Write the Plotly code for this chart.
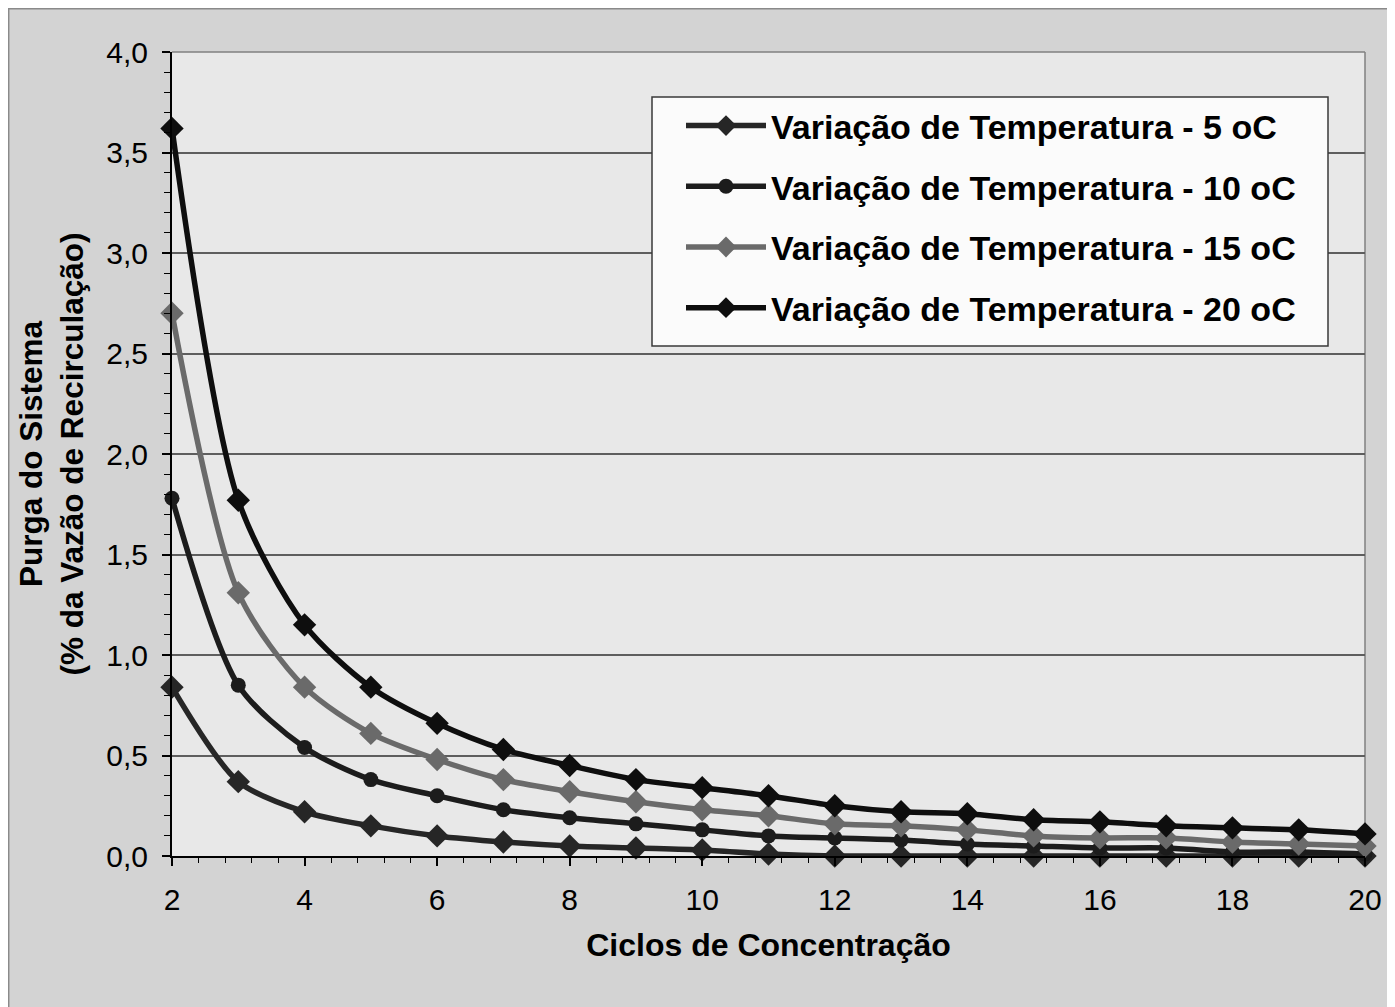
import plotly.graph_objects as go

cycles = list(range(2, 21))
t5 = [0.84, 0.37, 0.22, 0.15, 0.10, 0.07, 0.05, 0.04, 0.03, 0.01, 0.00, 0.00, 0.00, 0.00, 0.00, 0.00, 0.00, 0.00, 0.00]
t10 = [1.78, 0.85, 0.54, 0.38, 0.30, 0.23, 0.19, 0.16, 0.13, 0.10, 0.09, 0.08, 0.06, 0.05, 0.04, 0.04, 0.02, 0.02, 0.01]
t15 = [2.70, 1.31, 0.84, 0.61, 0.48, 0.38, 0.32, 0.27, 0.23, 0.20, 0.16, 0.15, 0.13, 0.10, 0.09, 0.09, 0.07, 0.06, 0.05]
t20 = [3.62, 1.77, 1.15, 0.84, 0.66, 0.53, 0.45, 0.38, 0.34, 0.30, 0.25, 0.22, 0.21, 0.18, 0.17, 0.15, 0.14, 0.13, 0.11]

names = ["Variação de Temperatura - 5 oC", "Variação de Temperatura - 10 oC",
         "Variação de Temperatura - 15 oC", "Variação de Temperatura - 20 oC"]
series = [t5, t10, t15, t20]
colors = ["#262626", "#1c1c1c", "#6a6a6a", "#0e0e0e"]
symbols = ["diamond", "circle", "diamond", "diamond"]
msizes = [18, 15, 18, 18]

# page body has an 8px margin; figure fills the rest of the 1395x1007 window
OFF = 8
W, H = 1395 - OFF, 1007 - OFF
PL, PT, PR, PB = 172, 52, 1365, 856   # plot area in screen pixels
L, T, R, B = PL - OFF, PT - OFF, 1395 - PR, 1007 - PB
pw, ph = PR - PL, PB - PT

def px(sx):
    return (sx - PL) / pw

def py(sy):
    return (PB - sy) / ph

fig = go.Figure()
for i, (nm, ys) in enumerate(zip(names, series)):
    fig.add_trace(go.Scatter(
        x=cycles, y=ys, name=nm, mode="lines+markers",
        line=dict(color=colors[i], width=5.5, shape="spline", smoothing=0.8),
        marker=dict(symbol=symbols[i], size=msizes[i], color=colors[i]),
        cliponaxis=False, legendgroup=f"g{i}",
    ))

font = "Liberation Sans, Arial, sans-serif"
shapes = [
    # outer frame border
    dict(type="rect", xref="paper", yref="paper", x0=px(8.7), x1=px(1400), y0=py(1012), y1=py(8.7),
         fillcolor="rgba(0,0,0,0)", line=dict(color="#8a8a8a", width=1.5), layer="above"),
    # legend box
    dict(type="rect", xref="paper", yref="paper", x0=px(652), x1=px(1328), y0=py(346), y1=py(97),
         fillcolor="#fbfbfb", line=dict(color="#3a3a3a", width=1.5), layer="above"),
    # plot border top/right
    dict(type="line", xref="paper", yref="paper", x0=0, x1=1, y0=1, y1=1,
         line=dict(color="#808080", width=1.5), layer="below"),
    dict(type="line", xref="paper", yref="paper", x0=1, x1=1, y0=0, y1=1,
         line=dict(color="#808080", width=1.5), layer="below"),
]

fig.update_layout(
    width=W, height=H,
    margin=dict(l=L, r=R, t=T, b=B),
    paper_bgcolor="#d3d3d3",
    plot_bgcolor="#e8e8e8",
    font=dict(family=font, color="#000000", size=30),
    shapes=shapes,
    showlegend=True,
    separators=",.",
    legend=dict(
        x=px(681), y=py(97), xanchor="left", yanchor="top",
        bgcolor="rgba(0,0,0,0)", borderwidth=0,
        font=dict(family=font, size=34, color="#000000", weight="bold"),
        itemwidth=80, tracegroupgap=13.5, traceorder="grouped",
    ),
    xaxis=dict(
        range=[2, 20], dtick=2, tick0=2,
        showgrid=False, zeroline=False,
        showline=True, linecolor="#000000", linewidth=2,
        ticks="outside", ticklen=8, tickwidth=1.5, tickcolor="#000000",
        minor=dict(dtick=0.4, tick0=2, ticks="outside", ticklen=5, tickcolor="#000000", tickwidth=1.2, showgrid=False),
        tickfont=dict(size=30), ticklabelstandoff=8,
        title=dict(text="Ciclos de Concentração", font=dict(size=32, weight="bold"), standoff=19),
    ),
    yaxis=dict(
        range=[0, 4], dtick=0.5, tick0=0,
        showgrid=True, gridcolor="#5e5e5e", gridwidth=1.5,
        zeroline=False,
        showline=True, linecolor="#000000", linewidth=2,
        ticks="outside", ticklen=8, tickwidth=1.5, tickcolor="#000000",
        minor=dict(dtick=0.1, ticks="outside", ticklen=6, tickcolor="#000000", tickwidth=1.2, showgrid=False),
        tickformat=".1f",
        tickfont=dict(size=30), ticklabelstandoff=8,
        title=dict(text="Purga do Sistema<br>(% da Vazão de Recirculação)",
                   font=dict(size=31.5, weight="bold"), standoff=13),
    ),
)

fig.write_html("out.html")
